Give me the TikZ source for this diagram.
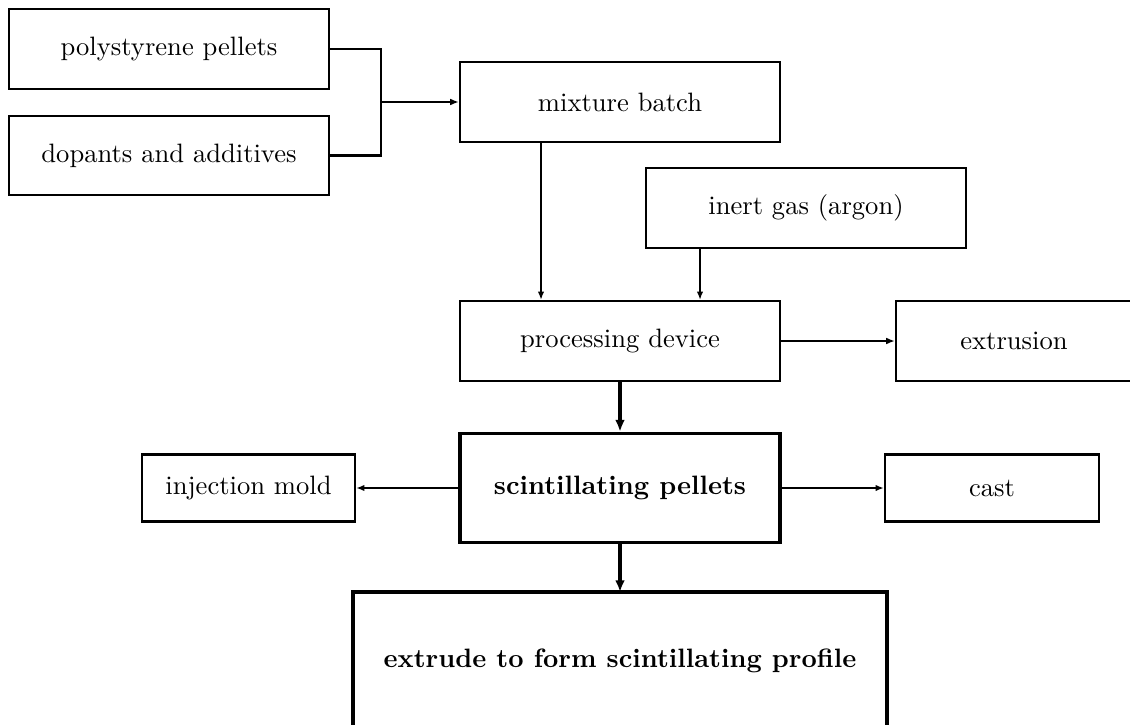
\documentclass[tikz,border=0pt]{standalone}
\usetikzlibrary{arrows.meta}
\def\u{0.41pt}
\newcommand{\myfont}{\fontsize{10.9pt}{13pt}\selectfont}
\tikzset{
  x=0.41pt, y=-0.41pt,
  box/.style={draw, line width=0.85pt, inner sep=0pt, minimum width=#1*\u, minimum height=80*\u, align=center, font=\myfont},
  bigbox/.style={draw, line width=1.5pt, inner sep=0pt, align=center, font=\myfont\bfseries},
  arr/.style={line width=1.1pt, -{Latex[length=3.6pt,width=2.8pt]}},
  thinarr/.style={line width=0.65pt, -{Latex[length=3.4pt,width=2.6pt]}},
  thickarr/.style={line width=1.3pt, -{Latex[length=4.8pt,width=4pt]}},
}
\begin{document}
\begin{tikzpicture}
\useasboundingbox (0,0) rectangle (1130,725);
\clip (0,0) rectangle (1130,725);
\node[box=320] (poly) at (169,49) {polystyrene pellets};
\node[box=320, minimum height=79*\u] (dop) at (169,155.5) {dopants and additives};
\node[box=320] (mix) at (620,102) {mixture batch};
\node[box=320] (gas) at (806,208) {inert gas (argon)};
\node[box=320] (proc) at (620,341) {processing device};
\node[box=236] (extr) at (1014,341) {extrusion};
\node[bigbox, minimum width=320*\u, minimum height=109*\u] (pel) at (620,488) {scintillating pellets};
\node[box=213, minimum height=67*\u] (inj) at (248.5,488) {injection mold};
\node[box=214, minimum height=67*\u] (cast) at (992,488) {cast};
\coordinate (extop) at (620,592);
\draw[line width=1.5pt] (353,740) -- (353,592) -- (887,592) -- (887,740);
\node[font=\myfont\bfseries] (ext) at (620,661) {extrude to form scintillating profile};
\coordinate (j) at (381,102);
\draw[line width=1.1pt] (poly.east) -| (381,155.5) -- (dop.east);
\draw[arr] (j) -- (mix.west);
\draw[thinarr] (mix.south -| 541,0) -- (proc.north -| 541,0);
\draw[thinarr] (gas.south -| 700,0) -- (proc.north -| 700,0);
\draw[arr] (proc.east) -- (extr.west);
\draw[thickarr] (proc.south) -- (pel.north);
\draw[thinarr, line width=0.8pt] (pel.west) -- (inj.east);
\draw[thinarr, line width=0.8pt] (pel.east) -- (cast.west);
\draw[thickarr] (pel.south) -- (extop);
\end{tikzpicture}
\end{document}
